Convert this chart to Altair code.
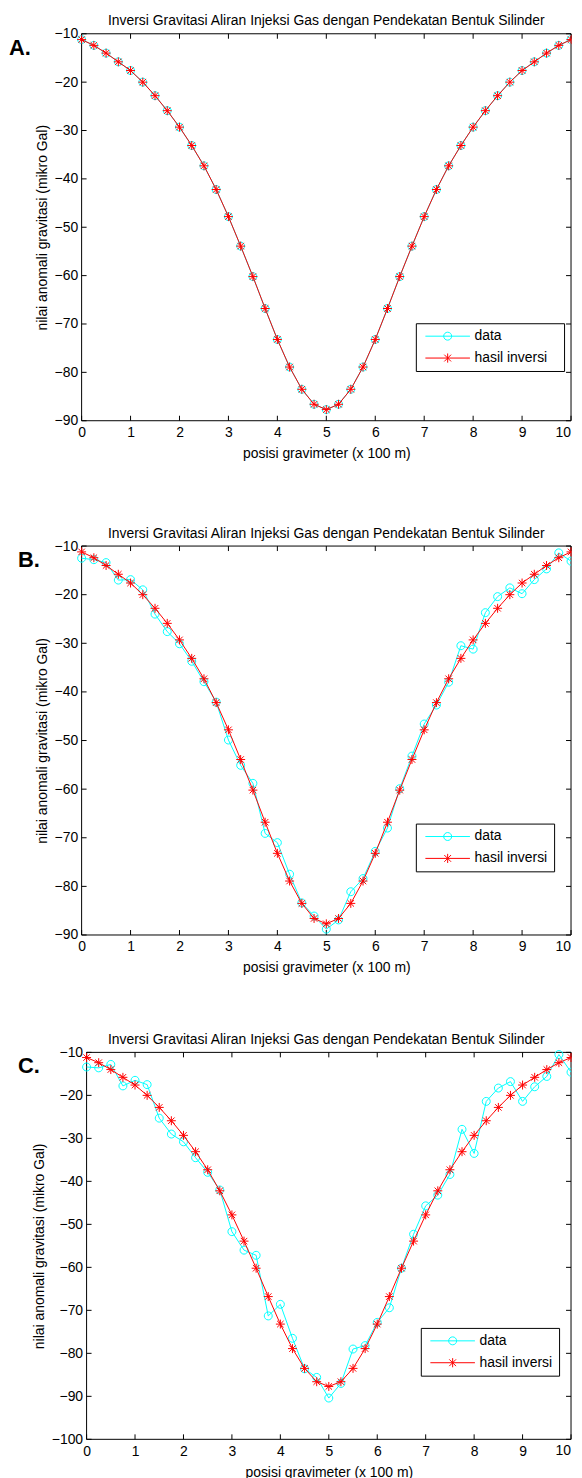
import altair as alt
import pandas as pd

# ---------------- data ----------------
x_pos = [0.0, 0.25, 0.5, 0.75, 1.0, 1.25, 1.5, 1.75, 2.0, 2.25, 2.5, 2.75, 3.0,
         3.25, 3.5, 3.75, 4.0, 4.25, 4.5, 4.75, 5.0, 5.25, 5.5, 5.75, 6.0, 6.25,
         6.5, 6.75, 7.0, 7.25, 7.5, 7.75, 8.0, 8.25, 8.5, 8.75, 9.0, 9.25, 9.5,
         9.75, 10.0]

hasil_inversi = [-11.2, -12.4, -14.0, -15.8, -17.6, -20.0, -22.8, -25.9, -29.3,
                 -33.1, -37.3, -42.2, -47.8, -53.9, -60.2, -66.8, -73.2, -78.9,
                 -83.5, -86.6, -87.7, -86.6, -83.5, -78.9, -73.2, -66.8, -60.2,
                 -53.9, -47.8, -42.2, -37.3, -33.1, -29.3, -25.9, -22.8, -20.0,
                 -17.6, -15.8, -14.0, -12.4, -11.2]

data_a = [-11.2, -12.4, -14.0, -15.8, -17.6, -20.0, -22.8, -25.9, -29.3,
          -33.1, -37.3, -42.2, -47.8, -53.9, -60.2, -66.8, -73.2, -78.9,
          -83.5, -86.6, -87.7, -86.6, -83.5, -78.9, -73.2, -66.8, -60.2,
          -53.9, -47.8, -42.2, -37.3, -33.1, -29.3, -25.9, -22.8, -20.0,
          -17.6, -15.8, -14.0, -12.4, -11.2]

data_b = [-12.5, -12.8, -13.4, -17.0, -16.9, -19.0, -24.0, -27.6, -30.1, -33.7,
          -37.9, -42.1, -49.9, -55.1, -58.8, -69.1, -71.0, -77.5, -83.4, -86.1,
          -88.8, -86.9, -81.1, -78.4, -72.8, -68.0, -59.9, -53.2, -46.6, -42.7,
          -38.0, -30.5, -31.2, -23.7, -20.4, -18.6, -19.8, -16.9, -14.7, -11.4,
          -13.1]

data_c = [-13.4, -13.6, -12.8, -17.8, -16.5, -17.5, -25.3, -29.0, -30.8, -34.5,
          -37.9, -42.0, -51.7, -56.0, -57.2, -71.3, -68.6, -76.5, -83.6, -85.6,
          -90.4, -87.0, -79.0, -78.2, -72.8, -69.4, -60.2, -52.3, -45.7, -43.2,
          -38.4, -27.9, -33.5, -21.4, -18.3, -16.8, -21.4, -18.0, -15.6, -10.5,
          -14.6]

x_ticks = [0, 1, 2, 3, 4, 5, 6, 7, 8, 9, 10]
x_last_tick = [10]
y_ticks_ab = [-90, -80, -70, -60, -50, -40, -30, -20, -10]
y_ticks_c = [-100, -90, -80, -70, -60, -50, -40, -30, -20, -10]

series_names = ["data", "hasil inversi"]
TITLE = "Inversi Gravitasi Aliran Injeksi Gas dengan Pendekatan Bentuk Silinder"
X_TITLE = "posisi gravimeter (x 100 m)"
Y_TITLE = "nilai anomali gravitasi (mikro Gal)"

FONT = "Liberation Sans"
CYAN = "#00FFFF"
RED = "#FF0000"
CIRCLE = "M1,0A1,1,0,1,1,-1,0A1,1,0,1,1,1,0"
STAR = "M-1,0L1,0M0,-1L0,1M-0.72,-0.72L0.72,0.72M-0.72,0.72L0.72,-0.72"
# markers sitting on the right frame edge are cut by the frame
CIRCLE_EDGE = "M0,-1A1,1,0,0,0,0,1"
STAR_EDGE = "M-1,0L0,0M0,-1L0,1M-0.72,-0.72L0,0M-0.72,0.72L0,0"
LEG_DATA = "M-5.6,0L5.6,0M1,0A1,1,0,1,1,-1,0A1,1,0,1,1,1,0"
LEG_INV = "M-5.6,0L5.6,0M0,-1.15L0,1.15M-0.85,-0.85L0.85,0.85M-0.85,0.85L0.85,-0.85"
TICK = 5
LABEL_PAD = 5


def panel(letter, data_vals, y_min, y_ticks, width, height, x_shift,
          legend_x, legend_y, letter_x, pad):
    df = pd.DataFrame({"x": x_pos, "data": data_vals, "inv": hasil_inversi})
    long = pd.DataFrame({
        "x": x_pos + x_pos,
        "y": data_vals + hasil_inversi,
        "series": [series_names[0]] * len(x_pos) + [series_names[1]] * len(x_pos),
    })
    box = pd.DataFrame({"x0": [0], "x1": [10], "y0": [y_min], "y1": [-10]})
    tx = pd.DataFrame({"t": x_ticks})
    ty = pd.DataFrame({"t": y_ticks})
    tlast = pd.DataFrame({"t": x_last_tick})

    xs = alt.Scale(domain=[0, 10], range=[x_shift, width], nice=False, zero=False)
    ys = alt.Scale(domain=[y_min, -10], nice=False, zero=False)

    ax_bottom = alt.Axis(orient="bottom", ticks=False, domain=False, grid=False,
                         values=x_ticks, format="d", labelFont=FONT,
                         labelFontSize=14, labelColor="black",
                         labelPadding=LABEL_PAD, labelFlush=False,
                         labelOverlap=False,
                         labelExpr="datum.value == 10 ? '' : datum.label",
                         title=X_TITLE, titleFont=FONT, titleFontSize=14,
                         titleFontWeight="normal", titleColor="black",
                         titlePadding=7)
    ax_left = alt.Axis(orient="left", offset=-x_shift, ticks=False, domain=False,
                       grid=False, values=y_ticks, format="d", labelFont=FONT,
                       labelFontSize=14, labelColor="black", labelPadding=4,
                       labelFlush=False, labelOverlap=False, title=Y_TITLE,
                       titleFont=FONT, titleFontSize=14, titleFontWeight="normal",
                       titleColor="black", titlePadding=5)

    frame = alt.Chart(box).mark_rect(fill="transparent", stroke="black",
                                     strokeWidth=1).encode(
        x=alt.X("x0:Q", scale=xs, axis=ax_bottom),
        x2="x1:Q",
        y=alt.Y("y0:Q", scale=ys, axis=ax_left),
        y2="y1:Q",
    )
    tick_x = alt.X("t:Q", scale=xs, axis=None)
    tick_y = alt.Y("t:Q", scale=ys, axis=None)
    t_bottom = alt.Chart(tx).mark_rule(color="black", strokeWidth=1).encode(
        x=tick_x, y=alt.value(height - TICK), y2=alt.value(height))
    t_top = alt.Chart(tx).mark_rule(color="black", strokeWidth=1).encode(
        x=tick_x, y=alt.value(0), y2=alt.value(TICK))
    t_left = alt.Chart(ty).mark_rule(color="black", strokeWidth=1).encode(
        y=tick_y, x=alt.value(x_shift), x2=alt.value(x_shift + TICK))
    t_right = alt.Chart(ty).mark_rule(color="black", strokeWidth=1).encode(
        y=tick_y, x=alt.value(width - TICK), x2=alt.value(width))
    # last x tick label, kept inside the page edge
    last_lab = alt.Chart(tlast).mark_text(align="right", baseline="top",
                                          font=FONT, fontSize=14,
                                          color="black").encode(
        x=tick_x, y=alt.value(height + LABEL_PAD),
        text=alt.Text("t:Q", format="d"))

    enc_d = dict(x=alt.X("x:Q", scale=xs, axis=None),
                 y=alt.Y("data:Q", scale=ys, axis=None))
    enc_i = dict(x=alt.X("x:Q", scale=xs, axis=None),
                 y=alt.Y("inv:Q", scale=ys, axis=None))
    dline = alt.Chart(df).mark_line(color=CYAN, strokeWidth=1).encode(**enc_d)
    iline = alt.Chart(df).mark_line(color=RED, strokeWidth=1).encode(**enc_i)

    def pts(shape, size, color, enc, edge):
        flt = "datum.x >= 10" if edge else "datum.x < 10"
        return alt.Chart(df).transform_filter(flt).mark_point(
            shape=shape, size=size, color=color, filled=False, strokeWidth=1,
            opacity=1).encode(**enc)

    dpts = pts(CIRCLE, 64, CYAN, enc_d, False)
    dpts_e = pts(CIRCLE_EDGE, 64, CYAN, enc_d, True)
    ipts = pts(STAR, 81, RED, enc_i, False)
    ipts_e = pts(STAR_EDGE, 81, RED, enc_i, True)

    leg = alt.Legend(title=None, orient="none", legendX=legend_x, legendY=legend_y,
                     direction="vertical", fillColor="white", strokeColor="black",
                     padding=6, labelFont=FONT, labelFontSize=14,
                     labelColor="black", symbolSize=64, symbolStrokeWidth=1,
                     symbolOffset=19, labelOffset=20, rowPadding=8,
                     labelExpr="datum.label + '" + pad + "'")
    lg = alt.Chart(long).transform_filter(
        "datum.x >= 3 && datum.x <= 7").mark_point(
        filled=False, opacity=0, size=64).encode(
        x=alt.X("x:Q", scale=xs, axis=None),
        y=alt.Y("y:Q", scale=ys, axis=None),
        color=alt.Color("series:N", scale=alt.Scale(domain=series_names,
                                                    range=[CYAN, RED]), legend=leg),
        shape=alt.Shape("series:N", scale=alt.Scale(domain=series_names,
                                                    range=[LEG_DATA, LEG_INV]),
                        legend=leg),
    )
    txt = alt.Chart(box).mark_text(align="left", baseline="alphabetic", font=FONT,
                                   fontSize=22, fontWeight="bold",
                                   color="black").encode(
        x=alt.value(letter_x), y=alt.value(21), text=alt.value(letter))

    return alt.layer(frame, t_bottom, t_top, t_left, t_right, last_lab, dline,
                     dpts, dpts_e, iline, ipts, ipts_e, lg, txt).resolve_axis(
        x="independent", y="independent"
    ).properties(
        width=width, height=height,
        title=alt.TitleParams(text=TITLE, font=FONT, fontSize=14,
                              fontWeight="normal", color="black",
                              anchor="middle", frame="group", offset=-12.5,
                              baseline="alphabetic"),
    )


pa = panel("A.", data_a, -90, y_ticks_ab, 492, 389, 0, 336, 291, -73,
           "\u2800\u00a0")
pb = panel("B.", data_b, -90, y_ticks_ab, 492, 391, 0, 336, 279, -64, "\u00a0")
pc = panel("C.", data_c, -100, y_ticks_c, 492, 389, 5, 341, 277, -64, "\u00a0")

top = alt.vconcat(pa, pb, spacing=65).resolve_scale(
    color="independent", shape="independent").resolve_legend(
    color="independent", shape="independent")

chart = alt.vconcat(top, pc, spacing=57).resolve_scale(
    color="independent", shape="independent").resolve_legend(
    color="independent", shape="independent").configure_view(
    stroke="transparent").properties(
    padding={"left": 0, "right": 0, "top": 2, "bottom": 0}, background="white")

chart.save("out.html", embed_options={"renderer": "svg", "actions": False})
